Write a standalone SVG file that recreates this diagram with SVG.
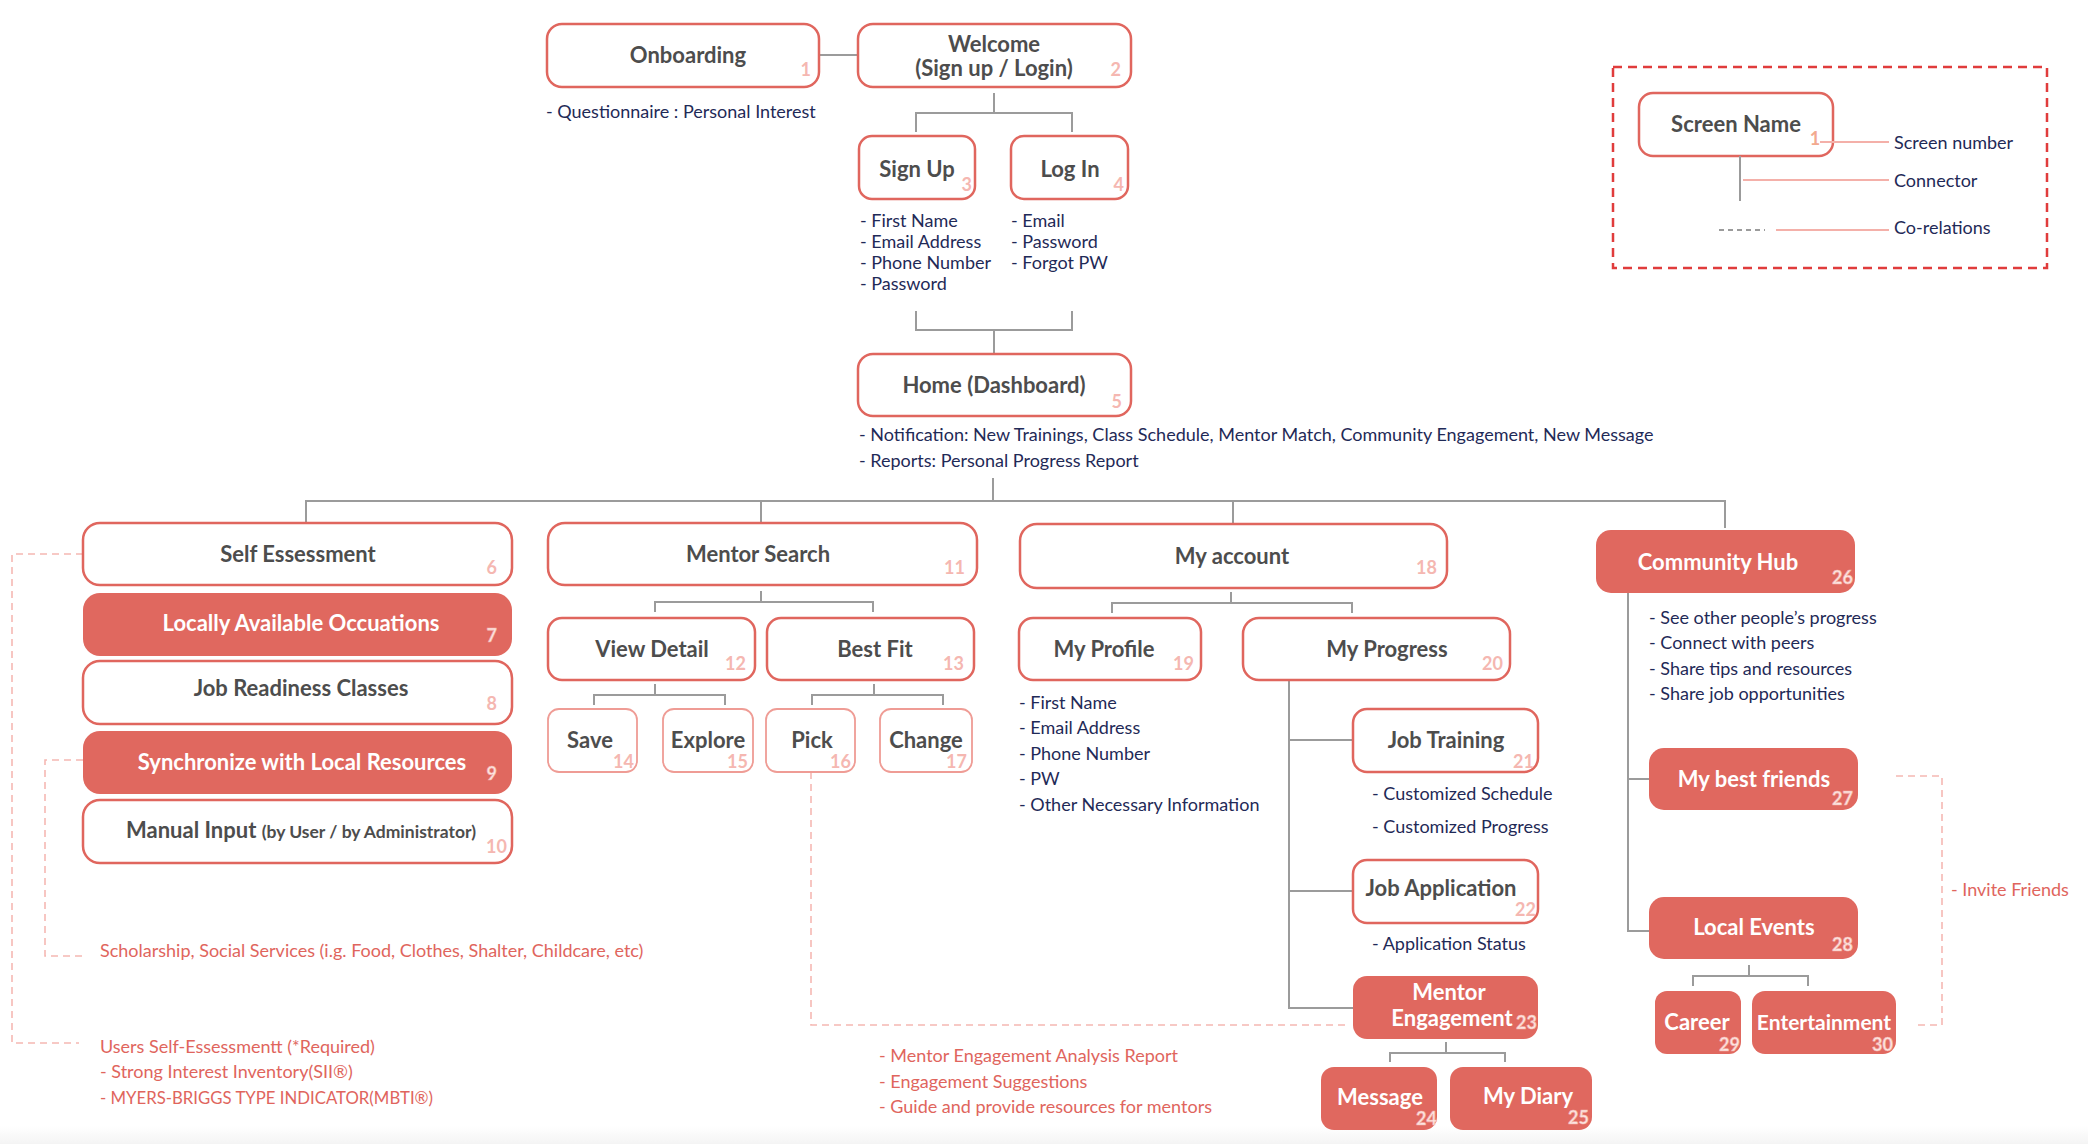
<svg xmlns="http://www.w3.org/2000/svg" width="2088" height="1144" viewBox="0 0 2088 1144">
<defs>
<linearGradient id="fade" x1="0" y1="0" x2="0" y2="1"><stop offset="0" stop-color="#ffffff"/><stop offset="1" stop-color="#f4f4f4"/></linearGradient>
</defs>
<style>
.box{fill:#ffffff;stroke:#e0665e;stroke-width:2.5}
.sbox{fill:#ffffff;stroke:#ef9c95;stroke-width:1.8}
.fbox{fill:#e0685f;stroke:none}
.t{font-family:Lato,"Liberation Sans",sans-serif;font-weight:bold;font-size:22px;fill:#4d4d4d;text-anchor:middle}
.tw{font-family:Lato,"Liberation Sans",sans-serif;font-weight:bold;font-size:22px;fill:#ffffff;text-anchor:middle}
.n{font-family:Lato,"Liberation Sans",sans-serif;font-weight:bold;font-size:18px;fill:#f5b7b1;text-anchor:end}
.nw{font-family:Lato,"Liberation Sans",sans-serif;font-weight:bold;font-size:18px;fill:#fde6e2;stroke:#f3b0a9;stroke-width:0.6;text-anchor:end}
.d{font-family:Lato,"Liberation Sans",sans-serif;font-size:18px;fill:#1f2a57}
.r{font-family:Lato,"Liberation Sans",sans-serif;font-size:18px;fill:#e0655d}
.c{fill:none;stroke:#9b9b9b;stroke-width:2}
.dash{fill:none;stroke:#f5b8b3;stroke-width:1.6;stroke-dasharray:7 5}
.lg{fill:none;stroke:#f4b0a9;stroke-width:2}
</style>
<rect x="0" y="0" width="2088" height="1144" fill="#ffffff"/>
<rect x="0" y="1126" width="2088" height="18" fill="url(#fade)"/>

<g id="connectors">
<path class="c" d="M819 55 H858"/>
<path class="c" d="M994 93 V113 M916 132 V113 H1072 V132"/>
<path class="c" d="M916 311 V330 H1072 V311 M994 330 V354"/>
<path class="c" d="M993 478 V501 M306 523 V501 H1725 V528 M761 501 V523 M1233 501 V524"/>
<path class="c" d="M761 591 V602 M655 612 V602 H873 V612"/>
<path class="c" d="M655 684 V695 M594 705 V695 H725 V705"/>
<path class="c" d="M874 684 V695 M812 705 V695 H943 V705"/>
<path class="c" d="M1231 592 V603 M1112 613 V603 H1352 V613"/>
<path class="c" d="M1289 680 V1008 H1353 M1289 740 H1353 M1289 891 H1353"/>
<path class="c" d="M1446 1042 V1053 M1390 1062 V1053 H1505 V1062"/>
<path class="c" d="M1628 593 V931 H1649 M1628 779 H1649"/>
<path class="c" d="M1749 965 V976 M1693 986 V976 H1808 V986"/>
<path class="dash" d="M83 554 H12 V1043 H79"/>
<path class="dash" d="M83 760 H45 V956 H83"/>
<path class="dash" d="M811 772 V1025 H1346"/>
<path class="dash" d="M1896 776 H1942 V1025 H1918"/>
</g>

<g id="n1"><rect class="box" x="547" y="24" width="272" height="63" rx="15"/><text class="t" x="688" y="63">Onboarding</text><text class="n" x="811" y="76">1</text></g>
<text class="d" x="546" y="118">- Questionnaire : Personal Interest</text>

<g id="n2"><rect class="box" x="858" y="24" width="273" height="63" rx="15"/><text class="t" x="994" y="52">Welcome</text><text class="t" x="994" y="76">(Sign up / Login)</text><text class="n" x="1121" y="76">2</text></g>

<g id="n3"><rect class="box" x="859" y="136" width="116" height="63" rx="13"/><text class="t" x="917" y="177">Sign Up</text><text class="n" x="972" y="191">3</text></g>
<g id="n4"><rect class="box" x="1011" y="136" width="117" height="63" rx="13"/><text class="t" x="1070" y="177">Log In</text><text class="n" x="1124" y="191">4</text></g>
<g class="d">
<text x="860" y="227">- First Name</text><text x="860" y="248">- Email Address</text><text x="860" y="269">- Phone Number</text><text x="860" y="290">- Password</text>
<text x="1011" y="227">- Email</text><text x="1011" y="248">- Password</text><text x="1011" y="269">- Forgot PW</text>
</g>

<g id="n5"><rect class="box" x="858" y="354" width="273" height="62" rx="15"/><text class="t" x="994" y="393">Home (Dashboard)</text><text class="n" x="1122" y="408">5</text></g>
<text class="d" x="859" y="441">- Notification: New Trainings, Class Schedule, Mentor Match, Community Engagement, New Message</text>
<text class="d" x="859" y="467">- Reports: Personal Progress Report</text>

<g id="n6"><rect class="box" x="83" y="523" width="429" height="62" rx="17"/><text class="t" x="298" y="562">Self Essessment</text><text class="n" x="497" y="574">6</text></g>
<g id="n7"><rect class="fbox" x="83" y="593" width="429" height="63" rx="17"/><text class="tw" x="301" y="631">Locally Available Occuations</text><text class="nw" x="497" y="642">7</text></g>
<g id="n8"><rect class="box" x="83" y="661" width="429" height="63" rx="17"/><text class="t" x="301" y="696">Job Readiness Classes</text><text class="n" x="497" y="710">8</text></g>
<g id="n9"><rect class="fbox" x="83" y="731" width="429" height="63" rx="17"/><text class="tw" x="302" y="770">Synchronize with Local Resources</text><text class="nw" x="497" y="780">9</text></g>
<g id="n10"><rect class="box" x="83" y="800" width="429" height="63" rx="17"/><text class="t" x="126" y="838" style="text-anchor:start">Manual Input <tspan style="font-size:17.5px">(by User / by Administrator)</tspan></text><text class="n" x="507" y="853">10</text></g>

<text class="r" x="100" y="957">Scholarship, Social Services (i.g. Food, Clothes, Shalter, Childcare, etc)</text>
<text class="r" x="100" y="1053">Users Self-Essessmentt (*Required)</text>
<text class="r" x="100" y="1078">- Strong Interest Inventory(SII®)</text>
<text class="r" x="100" y="1104" textLength="333" lengthAdjust="spacingAndGlyphs">- MYERS-BRIGGS TYPE INDICATOR(MBTI®)</text>

<g id="n11"><rect class="box" x="548" y="523" width="429" height="62" rx="17"/><text class="t" x="758" y="562">Mentor Search</text><text class="n" x="965" y="574">11</text></g>
<g id="n12"><rect class="box" x="548" y="618" width="207" height="62" rx="14"/><text class="t" x="652" y="657">View Detail</text><text class="n" x="746" y="670">12</text></g>
<g id="n13"><rect class="box" x="767" y="618" width="207" height="62" rx="14"/><text class="t" x="875" y="657">Best Fit</text><text class="n" x="964" y="670">13</text></g>
<g id="n14"><rect class="sbox" x="548" y="709" width="89" height="63" rx="11"/><text class="t" x="590" y="748">Save</text><text class="n" x="634" y="768">14</text></g>
<g id="n15"><rect class="sbox" x="663" y="709" width="90" height="63" rx="11"/><text class="t" x="708" y="748">Explore</text><text class="n" x="748" y="768">15</text></g>
<g id="n16"><rect class="sbox" x="766" y="709" width="89" height="63" rx="11"/><text class="t" x="812" y="748">Pick</text><text class="n" x="851" y="768">16</text></g>
<g id="n17"><rect class="sbox" x="880" y="709" width="92" height="63" rx="11"/><text class="t" x="926" y="748">Change</text><text class="n" x="967" y="768">17</text></g>

<g class="r">
<text x="879" y="1062">- Mentor Engagement Analysis Report</text>
<text x="879" y="1088">- Engagement Suggestions</text>
<text x="879" y="1113">- Guide and provide resources for mentors</text>
</g>

<g id="n18"><rect class="box" x="1020" y="524" width="427" height="64" rx="17"/><text class="t" x="1232" y="564">My account</text><text class="n" x="1437" y="574">18</text></g>
<g id="n19"><rect class="box" x="1019" y="618" width="182" height="62" rx="14"/><text class="t" x="1104" y="657">My Profile</text><text class="n" x="1194" y="670">19</text></g>
<g id="n20"><rect class="box" x="1243" y="618" width="267" height="62" rx="16"/><text class="t" x="1387" y="657">My Progress</text><text class="n" x="1503" y="670">20</text></g>
<g class="d">
<text x="1019" y="709">- First Name</text><text x="1019" y="734">- Email Address</text><text x="1019" y="760">- Phone Number</text><text x="1019" y="785">- PW</text><text x="1019" y="811">- Other Necessary Information</text>
</g>

<g id="n21"><rect class="box" x="1353" y="709" width="185" height="63" rx="14"/><text class="t" x="1446" y="748">Job Training</text><text class="n" x="1534" y="768">21</text></g>
<g class="d"><text x="1372" y="800">- Customized Schedule</text><text x="1372" y="833">- Customized Progress</text></g>
<g id="n22"><rect class="box" x="1353" y="860" width="185" height="63" rx="14"/><text class="t" x="1441" y="896">Job Application</text><text class="n" x="1536" y="916">22</text></g>
<text class="d" x="1372" y="950">- Application Status</text>
<g id="n23"><rect class="fbox" x="1353" y="976" width="185" height="63" rx="14"/><text class="tw" x="1449" y="1000">Mentor</text><text class="tw" x="1452" y="1026">Engagement</text><text class="nw" x="1537" y="1029">23</text></g>
<g id="n24"><rect class="fbox" x="1321" y="1067" width="116" height="63" rx="13"/><text class="tw" x="1380" y="1105">Message</text><text class="nw" x="1437" y="1125">24</text></g>
<g id="n25"><rect class="fbox" x="1450" y="1067" width="142" height="63" rx="13"/><text class="tw" x="1528" y="1104">My Diary</text><text class="nw" x="1589" y="1124">25</text></g>

<g id="n26"><rect class="fbox" x="1596" y="530" width="259" height="63" rx="15"/><text class="tw" x="1718" y="570">Community Hub</text><text class="nw" x="1853" y="584">26</text></g>
<g class="d">
<text x="1649" y="624">- See other people’s progress</text><text x="1649" y="649">- Connect with peers</text><text x="1649" y="675">- Share tips and resources</text><text x="1649" y="700">- Share job opportunities</text>
</g>
<g id="n27"><rect class="fbox" x="1649" y="748" width="209" height="62" rx="15"/><text class="tw" x="1754" y="787">My best friends</text><text class="nw" x="1853" y="805">27</text></g>
<g id="n28"><rect class="fbox" x="1649" y="897" width="209" height="62" rx="15"/><text class="tw" x="1754" y="935">Local Events</text><text class="nw" x="1853" y="951">28</text></g>
<g id="n29"><rect class="fbox" x="1655" y="991" width="86" height="63" rx="12"/><text class="tw" x="1697" y="1030">Career</text><text class="nw" x="1740" y="1051">29</text></g>
<g id="n30"><rect class="fbox" x="1752" y="991" width="144" height="63" rx="13"/><text class="tw" x="1824" y="1030" style="font-size:21px">Entertainment</text><text class="nw" x="1893" y="1051">30</text></g>
<text class="r" x="1951" y="896">- Invite Friends</text>

<g id="legend">
<rect x="1613" y="67" width="434" height="201" fill="none" stroke="#e03c3c" stroke-width="2.5" stroke-dasharray="9 6"/>
<rect class="box" x="1639" y="93" width="194" height="63" rx="14"/>
<text class="t" x="1736" y="132">Screen Name</text>
<text x="1815" y="145" style="font-family:Lato,'Liberation Sans',sans-serif;font-weight:bold;font-size:18px;fill:#f2a98f;text-anchor:middle">1</text>
<path class="lg" d="M1820 142 H1889 M1743 180 H1889 M1776 230 H1889"/>
<path class="c" d="M1740 156 V201"/>
<path d="M1719 230 H1765" fill="none" stroke="#9b9b9b" stroke-width="2" stroke-dasharray="5 4"/>
<text class="d" x="1894" y="149">Screen number</text>
<text class="d" x="1894" y="187">Connector</text>
<text class="d" x="1894" y="234">Co-relations</text>
</g>
</svg>
